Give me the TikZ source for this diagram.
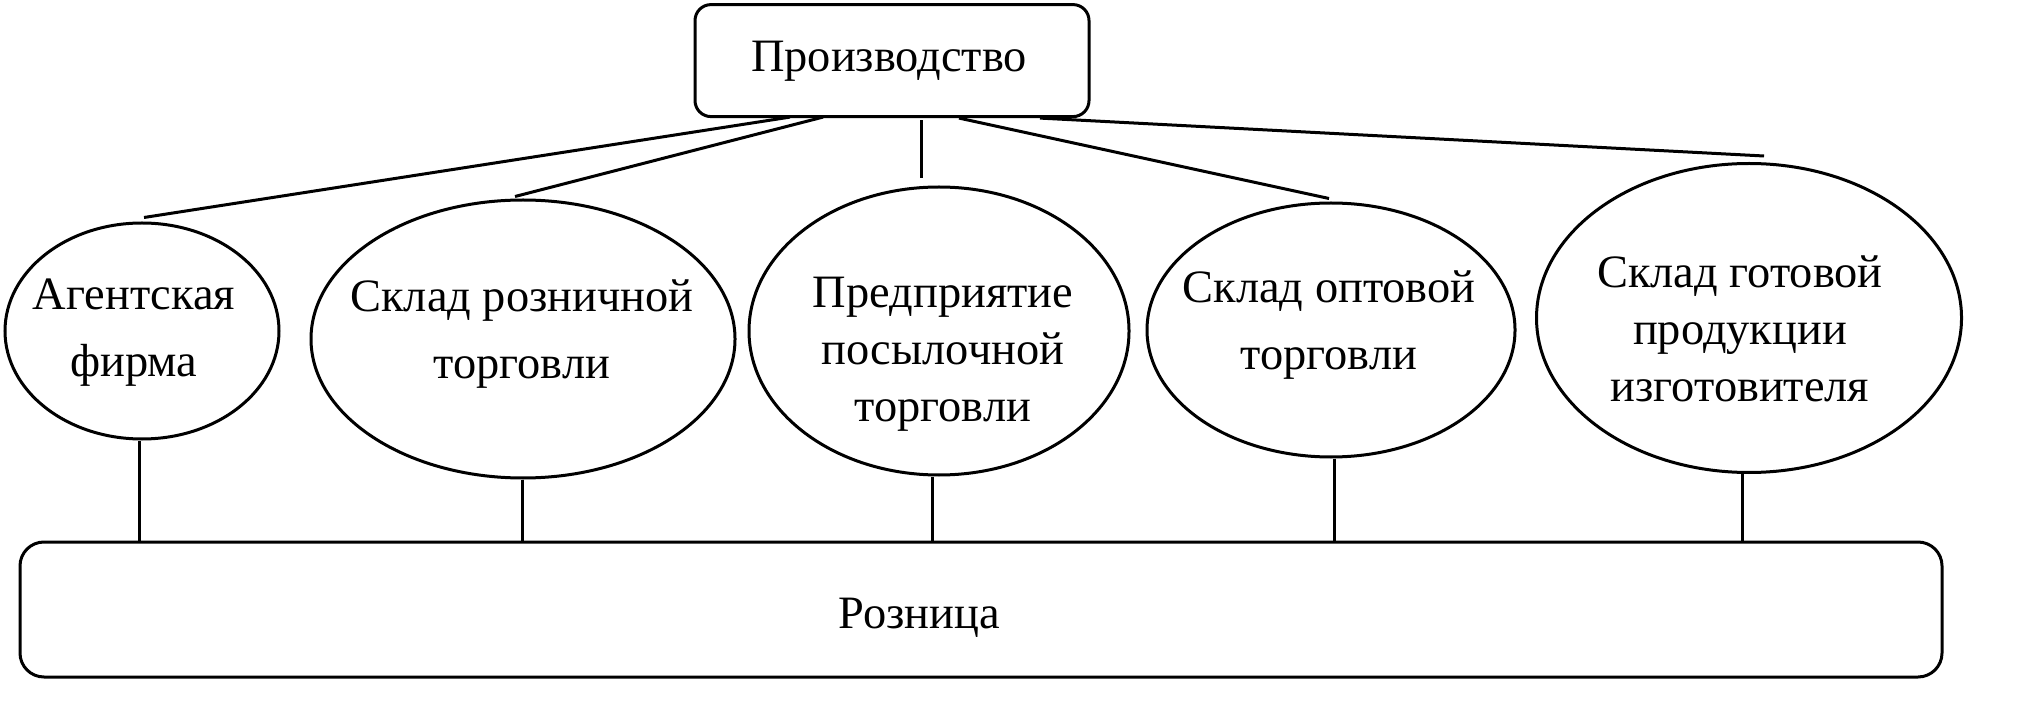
\documentclass[tikz,border=0pt]{standalone}
\usepackage{fontspec}
\setmainfont{Liberation Serif}
\usetikzlibrary{shapes.geometric,calc}
\begin{document}
\begin{tikzpicture}[x=0.25pt,y=-0.25pt, line width=0.75pt,
  ell/.style={draw, ellipse, inner sep=0pt},
  box/.style={draw, rectangle, inner sep=0pt},
  one/.style={inner sep=0pt, anchor=base, font=\fontsize{11.6pt}{14pt}\selectfont},
  lbl/.style={inner sep=0pt, align=center, font=\fontsize{11.6pt}{16.75pt}\selectfont},
  lbltri/.style={inner sep=0pt, align=center, font=\fontsize{11.6pt}{14.2pt}\selectfont},
  conn/.style={line width=0.75pt}]
\useasboundingbox (0,0) rectangle (2041,705);
% boxes
\node[box, rounded corners=4pt, minimum width=98.5pt, minimum height=28pt] (prod) at (892,60.6) {};
\node[box, rounded corners=6pt, minimum width=480.5pt, minimum height=33.75pt] (rozn) at (981,609.5) {};
% ellipses
\node[ell, minimum width=68.5pt, minimum height=54pt] (e1) at (142,331) {};
\node[ell, minimum width=106pt, minimum height=69.5pt] (e2) at (523,339) {};
\node[ell, minimum width=95pt, minimum height=72pt] (e3) at (939,331) {};
\node[ell, minimum width=92pt, minimum height=63.5pt] (e4) at (1331,330) {};
\node[ell, minimum width=106.25pt, minimum height=77.25pt] (e5) at (1749,318) {};
% texts
\node[one] (tprod) at (889,72) {Производство};
\node[one] (trozn) at (919,628) {Розница};
\node[lbl] (t1) at (134,333) {Агентская\\фирма};
\node[lbl] (t2) at (522,334) {Склад розничной\\торговли};
\node[lbltri] (t3) at (943,354) {Предприятие\\посылочной\\торговли};
\node[lbl] (t4) at (1329,325) {Склад оптовой\\торговли};
\node[lbltri] (t5) at (1740,329) {Склад готовой\\продукции\\изготовителя};
% connectors from production
\draw[conn] ($(prod.south)+(-102,-1)$) -- ($(e1.north)+(2,-4)$);
\draw[conn] ($(prod.south)+(-69,-1)$) -- ($(e2.north)+(-8,-2)$);
\draw[conn] ($(prod.south)+(29,2)$) -- ($(e3.north)+(-18,-7)$);
\draw[conn] ($(prod.south)+(67,0)$) -- ($(e4.north)+(-2,-3)$);
\draw[conn] ($(prod.south)+(148,0)$) -- ($(e5.north)+(15,-6)$);
% connectors to retail
\coordinate (b1) at ($(e1.south)+(-3,0)$);
\coordinate (b2) at ($(e2.south)+(-1,0)$);
\coordinate (b3) at ($(e3.south)+(-7,0)$);
\coordinate (b4) at ($(e4.south)+(3,0)$);
\coordinate (b5) at ($(e5.south)+(-7,0)$);
\draw[conn] (b1) -- (b1 |- rozn.north);
\draw[conn] (b2) -- (b2 |- rozn.north);
\draw[conn] (b3) -- (b3 |- rozn.north);
\draw[conn] (b4) -- (b4 |- rozn.north);
\draw[conn] (b5) -- (b5 |- rozn.north);
\end{tikzpicture}
\end{document}
